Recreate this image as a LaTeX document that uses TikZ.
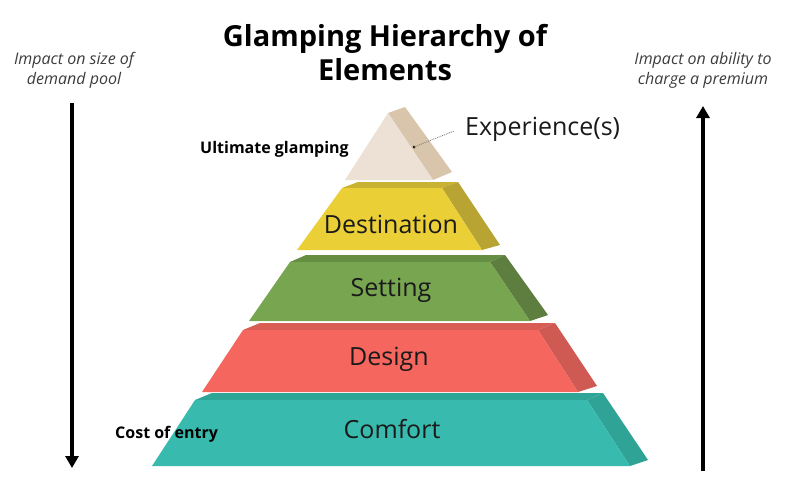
\documentclass[tikz,border=0pt]{standalone}
\usepackage{fontspec}
\setmainfont{Open Sans}
\usetikzlibrary{arrows.meta}
\definecolor{teal1}{HTML}{38BBAE}
\definecolor{teal2}{HTML}{2FA597}
\definecolor{teal3}{HTML}{2EA396}
\definecolor{red1}{HTML}{F4665E}
\definecolor{red2}{HTML}{D95C55}
\definecolor{red3}{HTML}{CF5A53}
\definecolor{grn1}{HTML}{78A54F}
\definecolor{grn2}{HTML}{658E43}
\definecolor{grn3}{HTML}{5E7E40}
\definecolor{yel1}{HTML}{EBCF37}
\definecolor{yel2}{HTML}{C9B232}
\definecolor{yel3}{HTML}{B8A432}
\definecolor{exp1}{HTML}{EDE0D4}
\definecolor{exp3}{HTML}{D8C5AB}
\definecolor{txt}{HTML}{1A1A1A}
\tikzset{
  lbl/.style={font=\fontsize{25}{28}\selectfont, text=txt, inner sep=0pt},
  side/.style={font=\fontsize{16}{20}\selectfont\itshape, text=txt!85, align=center, inner sep=0pt},
  bold/.style={font=\fontsize{16}{18}\selectfont\bfseries, text=black, inner sep=0pt},
  bigarrow/.style={line width=3.5pt, -{Triangle[length=12pt,width=13pt]}}
}
\begin{document}
\begin{tikzpicture}[x=1pt,y=-1pt]
\useasboundingbox (0,0) rectangle (802,498);
% Comfort
\fill[teal2] (195,400) -- (212,393) -- (603,393) -- (587,400) -- cycle;
\fill[teal3] (587,400) -- (603,393) -- (648,460) -- (630,466) -- cycle;
\fill[teal1] (152,466) -- (195,400) -- (587,400) -- (630,466) -- cycle;
% Design
\fill[red2] (243,330) -- (260,323) -- (555,323) -- (538,330) -- cycle;
\fill[red3] (538,330) -- (555,323) -- (597,386) -- (578,392) -- cycle;
\fill[red1] (202,392) -- (243,330) -- (538,330) -- (578,392) -- cycle;
% Setting
\fill[grn2] (290,262) -- (306,255) -- (505,255) -- (490,262) -- cycle;
\fill[grn3] (490,262) -- (505,255) -- (548,315) -- (530,321) -- cycle;
\fill[grn1] (249,321) -- (290,262) -- (490,262) -- (530,321) -- cycle;
% Destination
\fill[yel2] (342,188) -- (358,182) -- (458,182) -- (442,188) -- cycle;
\fill[yel3] (442,188) -- (458,182) -- (500,245) -- (482,250) -- cycle;
\fill[yel1] (297,250) -- (342,188) -- (442,188) -- (482,250) -- cycle;
% Experience
\fill[exp3] (388,113) -- (405,107) -- (452,172) -- (433,180) -- cycle;
\fill[exp1] (345,180) -- (388,113) -- (433,180) -- cycle;
% labels
\node[lbl] (comfort) at (392,429) {Comfort};
\node[lbl] (design) at (389,359) {Design};
\node[lbl] (setting) at (391,290) {Setting};
\node[lbl] (destination) at (391,224) {Destination};
\node[lbl, anchor=west] (experience) at (465,129) {Experience(s)};
\coordinate (dot) at (414,147);
\fill[black] (dot) circle (1.5pt);
\draw[gray, densely dotted, line width=0.9pt] (dot) -- (454,131);
% title
\node[font=\fontsize{29}{34}\selectfont\bfseries, align=center, inner sep=0pt] (title) at (385,53) {Glamping Hierarchy of\\Elements};
% side texts
\node[side] (lefttxt) at (74,70) {Impact on size of\\demand pool};
\node[side] (righttxt) at (703,70) {Impact on ability to\\charge a premium};
\node[bold, anchor=west] (ultimate) at (200,149) {Ultimate glamping};
\node[bold, anchor=west] (cost) at (115,434) {Cost of entry};
% arrows
\coordinate (la) at (72,103);
\coordinate (lb) at (72,468);
\coordinate (ra) at (703,471);
\coordinate (rb) at (703,106);
\draw[bigarrow] (la) -- (lb);
\draw[bigarrow] (ra) -- (rb);
\end{tikzpicture}
\end{document}
